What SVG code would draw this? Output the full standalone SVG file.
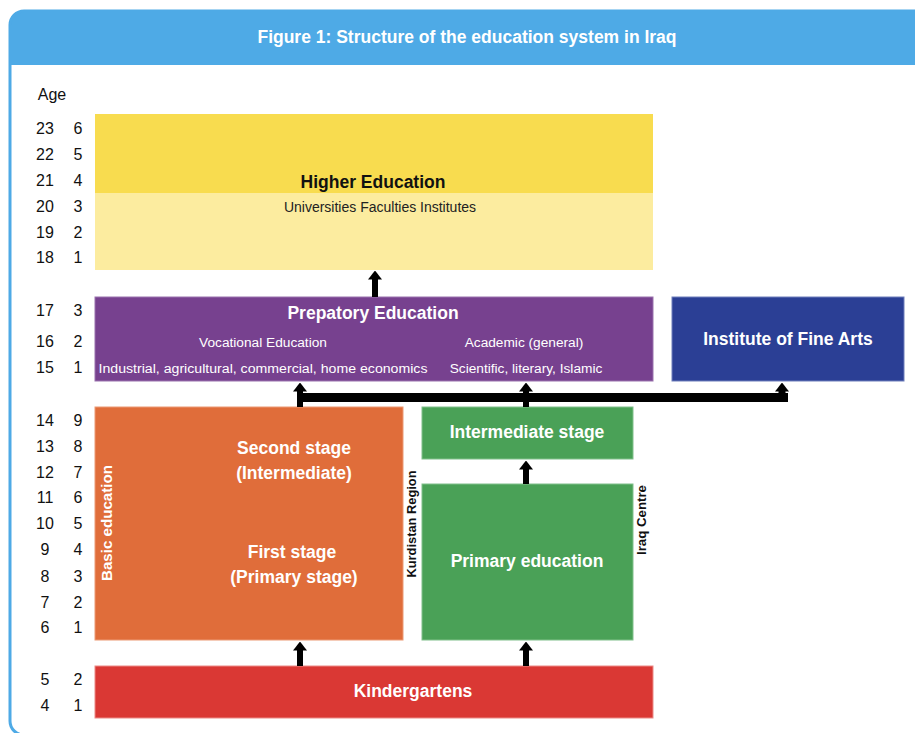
<svg xmlns="http://www.w3.org/2000/svg" width="915" height="733" viewBox="0 0 915 733">
<style>
  text { font-family: "Liberation Sans", Arial, sans-serif; }
  .age { font-size: 16px; fill: #111; text-anchor: middle; }
  .hb { font-size: 17.5px; font-weight: bold; fill: #fff; text-anchor: middle; }
  .hk { font-size: 17.5px; font-weight: bold; fill: #111; text-anchor: middle; }
  .sm { font-size: 13.7px; fill: #fff; text-anchor: middle; }
  .smk { font-size: 14px; fill: #222; text-anchor: middle; }
  .vk { font-size: 13px; font-weight: bold; fill: #111; text-anchor: middle; }
  .vw { font-size: 15.5px; font-weight: bold; fill: #fff; text-anchor: middle; }
  .conn line { stroke: #000; stroke-width: 6; }
</style>
<defs>
  <marker id="ah" viewBox="0 0 9 14" refX="0.5" refY="7" markerWidth="9" markerHeight="14" markerUnits="userSpaceOnUse" orient="auto">
    <path d="M0,0 L9,7 L0,14 Z" fill="#000"/>
  </marker>
</defs>
<rect width="915" height="733" fill="#fff"/>
<g id="frame">
  <path d="M10,65 V25 Q10,11 24,11 H935 V65 Z" fill="#4eaae6"/>
  <rect x="10" y="11" width="930" height="724" rx="14" fill="none" stroke="#4eaae6" stroke-width="3"/>
  <text x="467" y="43" class="hb" style="font-size:17.5px">Figure 1: Structure of the education system in Iraq</text>
</g>
<g id="ages">
  <text x="52" y="100" class="age">Age</text>
  <text x="45" y="134" class="age">23</text><text x="78" y="134" class="age">6</text>
  <text x="45" y="160" class="age">22</text><text x="78" y="160" class="age">5</text>
  <text x="45" y="186" class="age">21</text><text x="78" y="186" class="age">4</text>
  <text x="45" y="212" class="age">20</text><text x="78" y="212" class="age">3</text>
  <text x="45" y="238" class="age">19</text><text x="78" y="238" class="age">2</text>
  <text x="45" y="263" class="age">18</text><text x="78" y="263" class="age">1</text>
  <text x="45" y="316" class="age">17</text><text x="78" y="316" class="age">3</text>
  <text x="45" y="347" class="age">16</text><text x="78" y="347" class="age">2</text>
  <text x="45" y="373" class="age">15</text><text x="78" y="373" class="age">1</text>
  <text x="45" y="426" class="age">14</text><text x="78" y="426" class="age">9</text>
  <text x="45" y="452" class="age">13</text><text x="78" y="452" class="age">8</text>
  <text x="45" y="478" class="age">12</text><text x="78" y="478" class="age">7</text>
  <text x="45" y="503" class="age">11</text><text x="78" y="503" class="age">6</text>
  <text x="45" y="529" class="age">10</text><text x="78" y="529" class="age">5</text>
  <text x="45" y="555" class="age">9</text><text x="78" y="555" class="age">4</text>
  <text x="45" y="582" class="age">8</text><text x="78" y="582" class="age">3</text>
  <text x="45" y="608" class="age">7</text><text x="78" y="608" class="age">2</text>
  <text x="45" y="633" class="age">6</text><text x="78" y="633" class="age">1</text>
  <text x="45" y="685" class="age">5</text><text x="78" y="685" class="age">2</text>
  <text x="45" y="711" class="age">4</text><text x="78" y="711" class="age">1</text>
</g>
<g id="higher-education">
  <rect x="95" y="114" width="558" height="79" fill="#f8dc4f"/>
  <rect x="95" y="193" width="558" height="77" fill="#fcec9f"/>
  <text x="373" y="188" class="hk">Higher Education</text>
  <text x="380" y="212" class="smk">Universities Faculties Institutes</text>
</g>
<g id="prepatory-education">
  <rect x="95" y="297" width="558" height="84" fill="#77418f" stroke="#9a72ad" stroke-width="1"/>
  <text x="373" y="319" class="hb">Prepatory Education</text>
  <text x="263" y="347" class="sm">Vocational Education</text>
  <text x="524" y="347" class="sm">Academic (general)</text>
  <text x="263" y="373" class="sm" textLength="329" lengthAdjust="spacingAndGlyphs">Industrial, agricultural, commercial, home economics</text>
  <text x="526" y="373" class="sm">Scientific, literary, Islamic</text>
</g>
<g id="institute-fine-arts">
  <rect x="672" y="297" width="232" height="84" fill="#2b3f95" stroke="#6f7fbb" stroke-width="1"/>
  <text x="788" y="345" class="hb">Institute of Fine Arts</text>
</g>
<g id="basic-education">
  <rect x="95" y="407" width="308" height="233" fill="#e06d3a" stroke="#ec9a74" stroke-width="1"/>
  <text x="294" y="454" class="hb">Second stage</text>
  <text x="294" y="479" class="hb">(Intermediate)</text>
  <text x="292" y="558" class="hb">First stage</text>
  <text x="294" y="583" class="hb">(Primary stage)</text>
  <text transform="translate(112,523) rotate(-90)" class="vw" textLength="116" lengthAdjust="spacingAndGlyphs">Basic education</text>
</g>
<g id="kurdistan-label">
  <text transform="translate(415.5,524) rotate(-90)" class="vk" textLength="107" lengthAdjust="spacingAndGlyphs">Kurdistan Region</text>
</g>
<g id="intermediate-stage">
  <rect x="422" y="407" width="211" height="52" fill="#4aa157" stroke="#80c08b" stroke-width="1"/>
  <text x="527" y="438" class="hb">Intermediate stage</text>
</g>
<g id="primary-education">
  <rect x="422" y="484" width="211" height="156" fill="#4aa157" stroke="#80c08b" stroke-width="1"/>
  <text x="527" y="567" class="hb">Primary education</text>
</g>
<g id="iraq-centre-label">
  <text transform="translate(645.5,520) rotate(-90)" class="vk" textLength="70" lengthAdjust="spacingAndGlyphs">Iraq Centre</text>
</g>
<g id="kindergartens">
  <rect x="95" y="666" width="558" height="52" fill="#da3834" stroke="#ec8a86" stroke-width="1"/>
  <text x="413" y="697" class="hb">Kindergartens</text>
</g>
<g id="connectors" class="conn">
  <line x1="375" y1="297" x2="375" y2="279" marker-end="url(#ah)"/>
  <rect x="297" y="393" width="491" height="9" fill="#000"/>
  <line x1="300" y1="407" x2="300" y2="391" marker-end="url(#ah)"/>
  <line x1="526" y1="407" x2="526" y2="391" marker-end="url(#ah)"/>
  <line x1="782" y1="398" x2="782" y2="391" marker-end="url(#ah)" style="stroke-width:7"/>
  <line x1="526" y1="484" x2="526" y2="469" marker-end="url(#ah)"/>
  <line x1="300" y1="666" x2="300" y2="650" marker-end="url(#ah)"/>
  <line x1="526" y1="666" x2="526" y2="650" marker-end="url(#ah)"/>
</g>
</svg>
